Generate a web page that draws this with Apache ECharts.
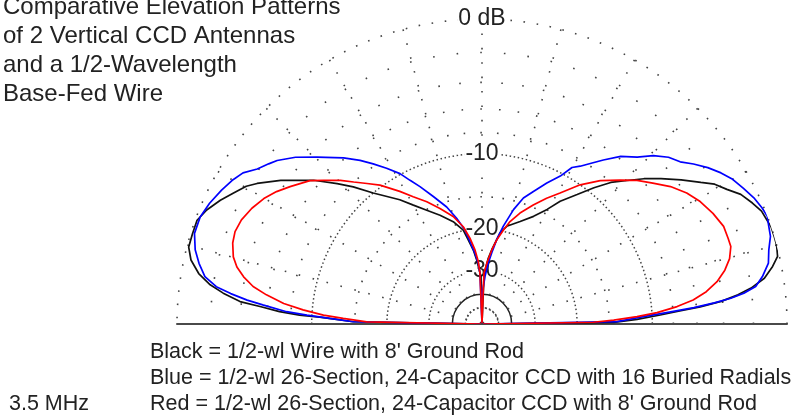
<!DOCTYPE html>
<html><head><meta charset="utf-8">
<script src="https://cdn.jsdelivr.net/npm/echarts@6/dist/echarts.min.js"></script>
<style>html,body{margin:0;padding:0;background:#fff}#c{width:801px;height:416px}</style>
</head><body><div id="c"></div>
<script>
// ---- text ----
const titleLines = ['Comparative Elevation Patterns', 'of 2 Vertical CCD Antennas', 'and a 1/2-Wavelength', 'Base-Fed Wire'];
const legendLines = ["Black = 1/2-wl Wire with 8' Ground Rod",
  "Blue = 1/2-wl 26-Section, 24-Capacitor CCD with 16 Buried Radials",
  "Red = 1/2-wl 26-Section, 24-Capacitor CCD with 8' Ground Rod"];
const freqLabel = '3.5 MHz';

// ---- scale (ARRL log grid, dB) ----
const scaleLabelDb = [0, -10, -20, -30];
const scaleLabelText = ['0 dB', '-10', '-20', '-30'];
const majorRingDb = [-10, -20, -30, -50];
const minorRingDb = [-2, -4, -6, -8, -15];
const solidRingDb = [-40];
const radialStep = 15;

// ---- patterns: elevation angle (deg, 0 = right horizon) and relative gain (dB) ----
const blackElev = [0, 0.7, 1.7, 2.9, 3.8, 4.5, 5.4, 6.5, 7.6, 9.2, 11.2, 12.9, 15.0, 16.6, 18.6, 20.1, 22.0, 24.1, 26.6, 28.8, 31.0, 32.9, 35.9, 39.1, 41.9, 44.7, 47.7, 50.6, 53.7, 57.5, 60.4, 64.4, 69.6, 75.8, 78.8, 80.1, 82.5, 84.5, 86.0, 87.6, 90,
  91.2, 92.9, 94.7, 96.7, 99.3, 101.3, 105.7, 111.1, 115.9, 120.0, 123.5, 129.7, 133.2, 135.9, 139.5, 144.5, 148.0, 149.7, 152.3, 154.7, 157.5, 160.0, 162.7, 165.3, 167.6, 169.9, 171.8, 173.2, 174.7, 175.5, 176.5, 177.2, 177.6, 178.2, 179.0, 180];
const blackDb = [-99, -14.4, -11.6, -9.2, -7.3, -5.7, -4.1, -2.9, -2.0, -1.1, -0.5, -0.1, 0, 0, 0, -0.1, -0.2, -0.5, -0.9, -1.5, -2.0, -2.7, -3.7, -4.8, -5.8, -6.9, -8.0, -9.4, -11.0, -12.7, -14.4, -16.1, -17.6, -19.0, -20.4, -21.8, -24.1, -26.2, -28.6, -31.9, -99,
  -32.0, -29.7, -26.7, -24.2, -21.9, -19.9, -18.1, -16.5, -15.1, -13.7, -12.3, -10.0, -8.3, -7.1, -5.5, -3.6, -2.4, -1.9, -1.4, -0.9, -0.4, -0.1, -0.1, -0.1, -0.4, -1.0, -1.8, -2.7, -3.9, -5.4, -7.0, -8.8, -10.8, -12.7, -14.8, -99];

const blueElev = [0, 1.0, 2.6, 3.7, 4.4, 5.2, 5.9, 6.7, 7.8, 9.6, 12.0, 14.5, 16.9, 19.1, 20.7, 22.5, 24.9, 27.4, 30.0, 32.3, 34.7, 37.1, 39.3, 41.8, 44.5, 47.1, 50.4, 53.5, 56.0, 58.1, 60.1, 62.1, 65.3, 68.8, 71.8, 74.6, 77.7, 80.1, 82.2, 84.1, 86.4, 89.5, 90,
  92.3, 93.5, 95.7, 98.3, 100.3, 103.5, 106.8, 110.9, 114.3, 116.6, 118.6, 121.5, 124.2, 126.7, 129.8, 134.7, 138.2, 141.4, 143.1, 145.4, 147.7, 149.9, 152.8, 156.1, 159.2, 162.5, 165.5, 167.9, 170.3, 172.0, 173.1, 174.2, 175.0, 176.4, 177.1, 177.9, 179.0, 180];
const blueDb = [-99, -14.0, -10.9, -8.2, -6.2, -4.6, -3.4, -2.5, -1.7, -1.2, -0.7, -0.5, -0.2, -0.1, 0, -0.1, -0.3, -0.6, -0.9, -1.3, -1.8, -2.4, -3.0, -3.4, -4.1, -5.0, -5.8, -6.9, -7.8, -8.5, -9.0, -10.3, -11.6, -13.1, -14.3, -16.2, -19.1, -21.8, -24.8, -27.5, -31.9, -39.4, -99,
  -30.8, -27.7, -25.0, -22.3, -19.9, -17.7, -15.7, -13.8, -12.1, -11.0, -9.9, -8.8, -7.8, -6.9, -5.9, -4.5, -3.4, -2.6, -2.3, -1.9, -1.3, -1.0, -0.7, -0.4, -0.2, -0.2, -0.5, -0.9, -1.4, -2.2, -3.2, -4.4, -5.6, -7.6, -9.5, -11.9, -14.8, -99];

const redElev = [0, 0.9, 1.7, 2.7, 3.7, 5.1, 6.5, 8.2, 10.2, 12.5, 14.8, 17.3, 19.2, 22.0, 25.6, 29.3, 32.6, 36.1, 39.5, 42.8, 46.2, 50.5, 54.8, 59.2, 62.8, 66.7, 71.1, 74.7, 77.2, 80.1, 82.5, 85.1, 87.8, 90,
  92.3, 93.4, 95.4, 98.0, 100.9, 105.0, 110.0, 114.3, 118.4, 121.8, 126.3, 129.3, 132.1, 134.6, 137.8, 140.2, 144.4, 147.2, 150.1, 153.3, 156.6, 159.5, 162.0, 164.9, 166.9, 168.8, 170.7, 172.3, 174.1, 175.5, 176.8, 177.7, 178.9, 180];
const redDb = [-99, -17.3, -14.4, -11.6, -9.5, -7.6, -6.2, -5.1, -4.2, -3.5, -3.0, -2.7, -2.7, -2.7, -3.0, -3.4, -3.9, -4.6, -5.5, -6.3, -7.3, -8.5, -10.0, -11.9, -13.2, -14.7, -16.4, -18.1, -19.8, -21.9, -24.2, -27.2, -30.7, -99,
  -30.8, -27.2, -24.2, -21.6, -19.3, -17.3, -15.6, -14.1, -12.8, -11.5, -9.8, -8.9, -8.0, -7.1, -6.1, -5.3, -4.4, -3.8, -3.3, -2.9, -2.6, -2.5, -2.6, -2.9, -3.3, -3.9, -4.7, -5.8, -7.3, -9.1, -11.2, -13.5, -16.7, -99];

// ---- layout / style ----
const CX = 482, CY = 324, R = 305;
const DOT = '#444';
const FONT = "'Liberation Sans', Arial, sans-serif";
const toR = db => Math.pow(0.89, -db / 2);   // ARRL log scale radius

const polars = [], angleAxes = [], radiusAxes = [];
function addPolar(angleOpt, radiusOpt) {
  const i = polars.length;
  polars.push({ center: [CX, CY], radius: R });
  angleAxes.push(Object.assign({ polarIndex: i, type: 'value', min: 0, max: 180, startAngle: 0, endAngle: 180, clockwise: false,
    axisLine: { show: false }, axisTick: { show: false }, axisLabel: { show: false }, splitLine: { show: false }, splitArea: { show: false } }, angleOpt));
  radiusAxes.push(Object.assign({ polarIndex: i, type: 'value', min: 0, max: 1,
    axisLine: { show: false }, axisTick: { show: false }, axisLabel: { show: false }, splitLine: { show: false }, splitArea: { show: false } }, radiusOpt));
  return i;
}

// main polar: outer ring, radial lines, right half of the ground line
addPolar({
  interval: radialStep,
  axisLine: { show: true, lineStyle: { color: DOT, width: 1.6, type: [1.6, 11.6] } },
  splitLine: { show: true, lineStyle: { color: DOT, width: 1.6, type: [1.6, 12.8] } }
}, {
  axisLine: { show: true, lineStyle: { color: '#4a4a4a', width: 2 } }
});
// major (dense dotted) rings + left half of ground line
addPolar({ startAngle: 180, endAngle: 0, clockwise: true }, {
  axisLine: { show: true, lineStyle: { color: '#4a4a4a', width: 2 } },
  axisTick: { show: false, customValues: majorRingDb.map(toR) },
  splitLine: { show: true, lineStyle: { color: DOT, width: 1.5, type: [1.5, 2.6] } }
});
// solid ring
addPolar({}, {
  axisTick: { show: false, customValues: solidRingDb.map(toR) },
  splitLine: { show: true, lineStyle: { color: '#222', width: 1.5, type: 'solid' } }
});
// minor rings: a dot every 5 degrees
minorRingDb.forEach(db => {
  const gap = R * toR(db) * Math.PI / 36;
  addPolar({}, {
    axisTick: { show: false, customValues: [toR(db)] },
    splitLine: { show: true, lineStyle: { color: DOT, width: 1.6, type: [1.6, gap - 1.6] } }
  });
});
// scale labels along the vertical
const labelR = scaleLabelDb.map(toR);
addPolar({ startAngle: 90, endAngle: -90, clockwise: true }, {
  axisTick: { show: false, customValues: labelR },
  axisLabel: {
    show: true, customValues: labelR, margin: 0, rotate: 0, align: 'center', verticalAlign: 'middle',
    fontFamily: FONT, fontSize: 23, color: '#222', backgroundColor: '#fff', padding: [0, 1],
    formatter: v => {
      let k = 0;
      labelR.forEach((r, i) => { if (Math.abs(r - v) < Math.abs(labelR[k] - v)) k = i; });
      return scaleLabelText[k];
    }
  }
});

function mk(name, elev, db, color) {
  return {
    name, type: 'line', coordinateSystem: 'polar', polarIndex: 0,
    data: elev.map((a, i) => [toR(db[i]), a]),
    showSymbol: false, symbol: 'none', smooth: false, clip: false, animation: false,
    lineStyle: { color, width: 1.7 }, z: 5
  };
}

const chart = echarts.init(document.getElementById('c'), null, { renderer: 'canvas' });
chart.setOption({
  backgroundColor: '#fff',
  animation: false,
  title: [
    { text: titleLines.join('\n'), left: 3, top: -7, padding: 0, itemGap: 0,
      textStyle: { fontFamily: FONT, fontSize: 24, fontWeight: 'normal', color: '#222', lineHeight: 29 } },
    { text: legendLines.join('\n'), left: 150, top: 339, padding: 0,
      textStyle: { fontFamily: FONT, fontSize: 21.5, fontWeight: 'normal', color: '#222', lineHeight: 26 } },
    { text: freqLabel, left: 9, top: 391, padding: 0,
      textStyle: { fontFamily: FONT, fontSize: 21.5, fontWeight: 'normal', color: '#222', lineHeight: 26 } }
  ],
  polar: polars,
  angleAxis: angleAxes,
  radiusAxis: radiusAxes,
  series: [
    mk('Black', blackElev, blackDb, '#111'),
    mk('Blue', blueElev, blueDb, '#0000ff'),
    mk('Red', redElev, redDb, '#ff0000')
  ]
});
</script></body></html>
